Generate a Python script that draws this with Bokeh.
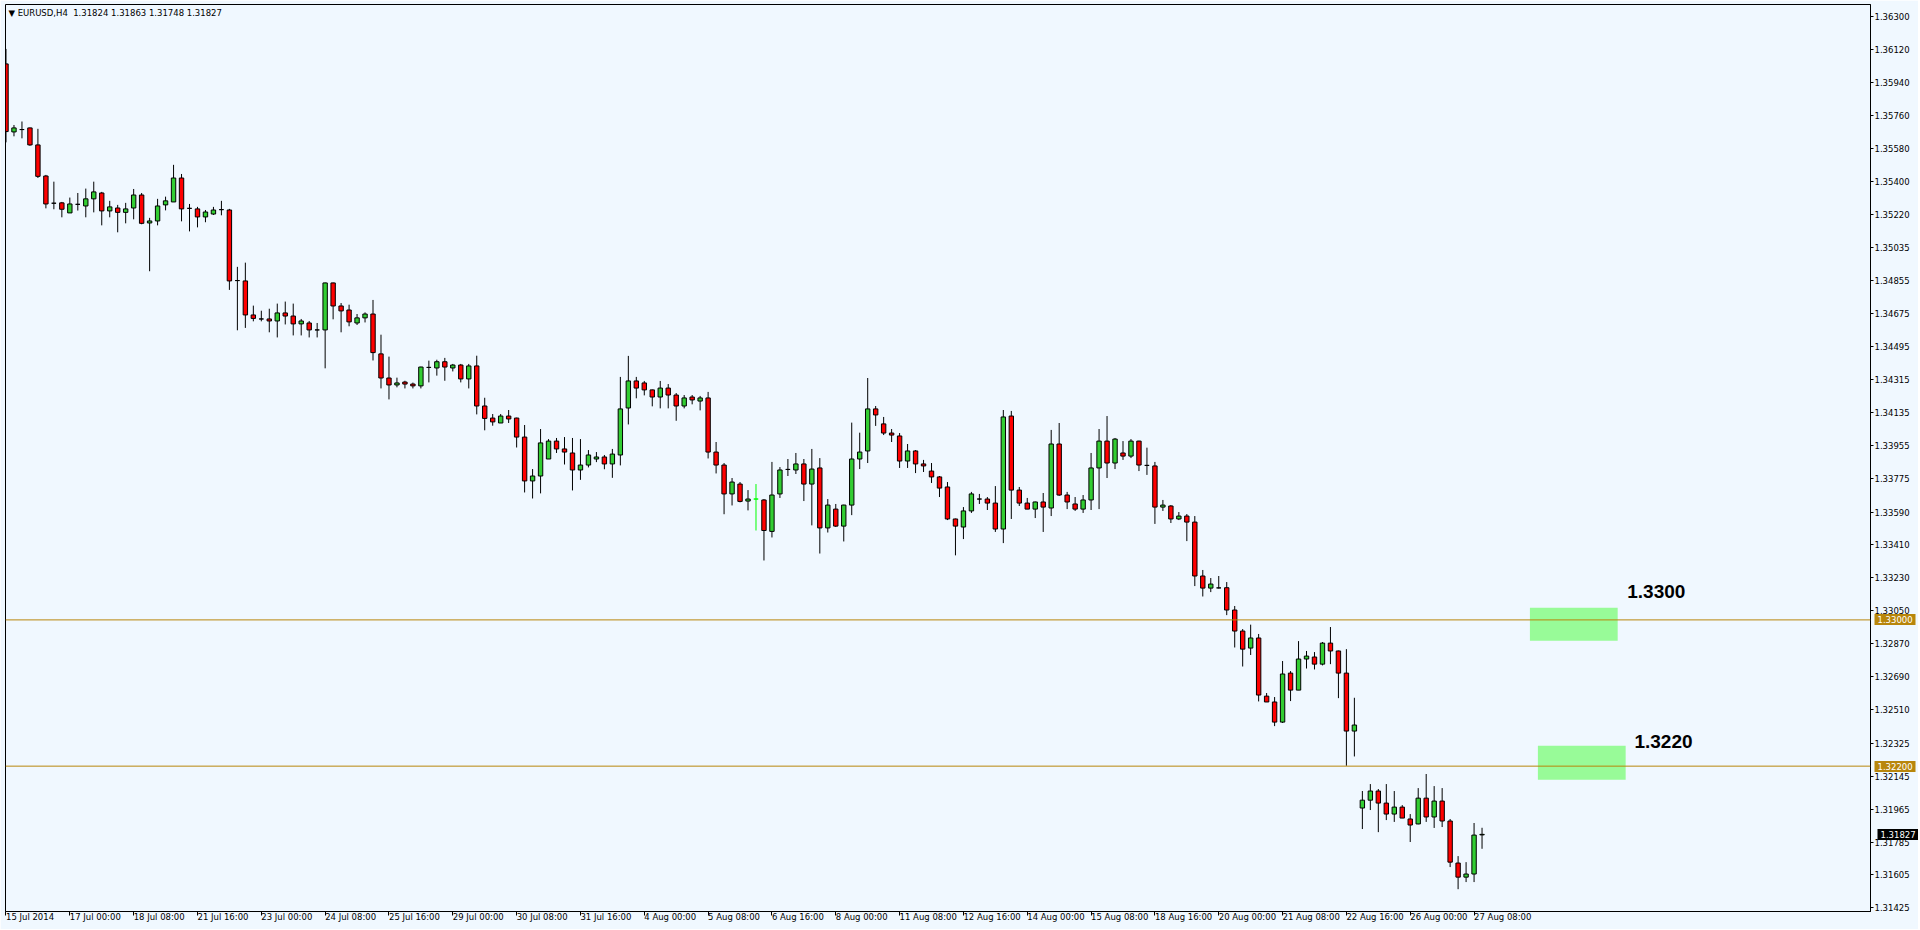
import numpy as np
from bokeh.plotting import figure
from bokeh.models import (Range1d, FixedTicker, NumeralTickFormatter, Span, Label,
                          ColumnDataSource, LinearAxis)
from bokeh.embed import file_html
from bokeh.resources import INLINE

# ---------------- data ----------------
symbol = "EURUSD,H4"

open_ = [1.36041, 1.35669, 1.35682, 1.35691, 1.35598, 1.35428, 1.35279, 1.35281, 1.35226, 1.35273,
         1.35264, 1.35303, 1.35335, 1.35237, 1.35253, 1.35229, 1.35253, 1.35324, 1.35171, 1.35182,
         1.35270, 1.35286, 1.35417, 1.35251, 1.35248, 1.35204, 1.35220, 1.35244, 1.35242, 1.34856,
         1.34854, 1.34668, 1.34646, 1.34646, 1.34635, 1.34679, 1.34662, 1.34619, 1.34624, 1.34586,
         1.34586, 1.34843, 1.34717, 1.34695, 1.34624, 1.34652, 1.34673, 1.34455, 1.34323, 1.34285,
         1.34301, 1.34290, 1.34280, 1.34381, 1.34378, 1.34412, 1.34378, 1.34394, 1.34318, 1.34389,
         1.34170, 1.34104, 1.34077, 1.34115, 1.34104, 1.34000, 1.33760, 1.33787, 1.33880, 1.33978,
         1.33935, 1.33913, 1.33820, 1.33847, 1.33880, 1.33891, 1.33853, 1.33902, 1.34159, 1.34307,
         1.34296, 1.34258, 1.34219, 1.34268, 1.34230, 1.34170, 1.34219, 1.34197, 1.34214, 1.33918,
         1.33847, 1.33689, 1.33743, 1.33650, 1.33661, 1.33656, 1.33484, 1.33689, 1.33823, 1.33820,
         1.33853, 1.33743, 1.33831, 1.33503, 1.33606, 1.33513, 1.33628, 1.33880, 1.33924, 1.34154,
         1.34072, 1.34022, 1.34006, 1.33869, 1.33924, 1.33853, 1.33814, 1.33782, 1.33727, 1.33552,
         1.33508, 1.33596, 1.33661, 1.33661, 1.33639, 1.33497, 1.34115, 1.33710, 1.33639, 1.33606,
         1.33645, 1.33612, 1.33962, 1.33683, 1.33634, 1.33606, 1.33656, 1.33831, 1.33978, 1.33858,
         1.33913, 1.33896, 1.33978, 1.33845, 1.33842, 1.33617, 1.33623, 1.33552, 1.33568, 1.33535,
         1.33240, 1.33174, 1.33175, 1.33176, 1.33054, 1.32939, 1.32846, 1.32901, 1.32583, 1.32551,
         1.32441, 1.32709, 1.32616, 1.32786, 1.32797, 1.32758, 1.32873, 1.32830, 1.32709, 1.32392,
         1.31971, 1.32014, 1.32064, 1.31998, 1.31938, 1.31976, 1.31911, 1.31884, 1.32025, 1.31922,
         1.32009, 1.31900, 1.31670, 1.31593, 1.31610, 1.31824]

high = [1.36123, 1.35707, 1.35726, 1.35693, 1.35686, 1.35434, 1.35397, 1.35286, 1.35310, 1.35335,
        1.35359, 1.35397, 1.35341, 1.35292, 1.35270, 1.35281, 1.35357, 1.35335, 1.35199, 1.35303,
        1.35315, 1.35489, 1.35439, 1.35275, 1.35259, 1.35242, 1.35259, 1.35292, 1.35248, 1.34931,
        1.34954, 1.34719, 1.34691, 1.34702, 1.34730, 1.34741, 1.34730, 1.34646, 1.34635, 1.34624,
        1.34845, 1.34845, 1.34733, 1.34724, 1.34673, 1.34682, 1.34750, 1.34560, 1.34440, 1.34325,
        1.34308, 1.34298, 1.34385, 1.34418, 1.34423, 1.34433, 1.34400, 1.34400, 1.34400, 1.34445,
        1.34215, 1.34126, 1.34126, 1.34148, 1.34106, 1.34066, 1.33825, 1.34044, 1.33989, 1.33995,
        1.34000, 1.33995, 1.33989, 1.33929, 1.33918, 1.33902, 1.33935, 1.34329, 1.34444, 1.34329,
        1.34307, 1.34260, 1.34307, 1.34290, 1.34241, 1.34230, 1.34230, 1.34225, 1.34247, 1.33973,
        1.33858, 1.33776, 1.33754, 1.33710, 1.33743, 1.33661, 1.33864, 1.33836, 1.33880, 1.33913,
        1.33880, 1.33935, 1.33885, 1.33661, 1.33634, 1.33630, 1.34079, 1.34024, 1.34323, 1.34170,
        1.34110, 1.34044, 1.34022, 1.33962, 1.33929, 1.33875, 1.33858, 1.33787, 1.33754, 1.33554,
        1.33617, 1.33700, 1.33689, 1.33672, 1.33732, 1.34148, 1.34143, 1.33727, 1.33667, 1.33647,
        1.33694, 1.34039, 1.34077, 1.33700, 1.33672, 1.33683, 1.33913, 1.34044, 1.34115, 1.33995,
        1.33978, 1.33989, 1.33980, 1.33942, 1.33864, 1.33656, 1.33628, 1.33590, 1.33579, 1.33568,
        1.33273, 1.33229, 1.33240, 1.33207, 1.33076, 1.32950, 1.32974, 1.32923, 1.32600, 1.32578,
        1.32775, 1.32720, 1.32884, 1.32830, 1.32824, 1.32879, 1.32961, 1.32832, 1.32840, 1.32574,
        1.32064, 1.32102, 1.32075, 1.32102, 1.32064, 1.31987, 1.31938, 1.32080, 1.32157, 1.32091,
        1.32080, 1.31911, 1.31708, 1.31675, 1.31889, 1.31863]

low = [1.35612, 1.35645, 1.35634, 1.35593, 1.35417, 1.35251, 1.35246, 1.35202, 1.35226, 1.35239,
       1.35202, 1.35229, 1.35158, 1.35202, 1.35120, 1.35169, 1.35191, 1.35164, 1.34907, 1.35158,
       1.35240, 1.35286, 1.35180, 1.35125, 1.35147, 1.35175, 1.35215, 1.35213, 1.34805, 1.34584,
       1.34597, 1.34633, 1.34633, 1.34573, 1.34545, 1.34616, 1.34556, 1.34556, 1.34545, 1.34545,
       1.34376, 1.34644, 1.34573, 1.34606, 1.34613, 1.34627, 1.34419, 1.34266, 1.34206, 1.34272,
       1.34266, 1.34266, 1.34266, 1.34299, 1.34336, 1.34308, 1.34359, 1.34299, 1.34266, 1.34124,
       1.34037, 1.34062, 1.34077, 1.34077, 1.33943, 1.33697, 1.33664, 1.33692, 1.33880, 1.33913,
       1.33850, 1.33708, 1.33766, 1.33834, 1.33863, 1.33824, 1.33777, 1.33845, 1.34069, 1.34212,
       1.34228, 1.34168, 1.34157, 1.34157, 1.34089, 1.34157, 1.34179, 1.34146, 1.33883, 1.33801,
       1.33578, 1.33626, 1.33643, 1.33599, 1.33489, 1.33325, 1.33451, 1.33667, 1.33787, 1.33798,
       1.33650, 1.33517, 1.33363, 1.33478, 1.33508, 1.33429, 1.33573, 1.33825, 1.33858, 1.34061,
       1.34011, 1.33973, 1.33831, 1.33831, 1.33803, 1.33809, 1.33749, 1.33672, 1.33546, 1.33353,
       1.33442, 1.33585, 1.33634, 1.33601, 1.33481, 1.33420, 1.33552, 1.33623, 1.33606, 1.33557,
       1.33481, 1.33568, 1.33678, 1.33606, 1.33596, 1.33585, 1.33601, 1.33606, 1.33776, 1.33825,
       1.33875, 1.33885, 1.33814, 1.33793, 1.33525, 1.33596, 1.33530, 1.33546, 1.33431, 1.33185,
       1.33128, 1.33152, 1.33172, 1.33026, 1.32849, 1.32745, 1.32808, 1.32554, 1.32551, 1.32419,
       1.32436, 1.32556, 1.32616, 1.32734, 1.32729, 1.32751, 1.32758, 1.32572, 1.32202, 1.32253,
       1.31856, 1.31960, 1.31839, 1.31905, 1.31895, 1.31916, 1.31785, 1.31882, 1.31895, 1.31862,
       1.31867, 1.31648, 1.31527, 1.31566, 1.31566, 1.31748]

close = [1.35671, 1.35691, 1.35682, 1.35598, 1.35426, 1.35275, 1.35279, 1.35246, 1.35275, 1.35273,
         1.35303, 1.35341, 1.35237, 1.35259, 1.35229, 1.35248, 1.35324, 1.35169, 1.35182, 1.35264,
         1.35292, 1.35417, 1.35248, 1.35251, 1.35204, 1.35231, 1.35242, 1.35244, 1.34854, 1.34856,
         1.34668, 1.34649, 1.34646, 1.34635, 1.34679, 1.34662, 1.34619, 1.34635, 1.34586, 1.34586,
         1.34843, 1.34717, 1.34690, 1.34630, 1.34652, 1.34673, 1.34462, 1.34323, 1.34285, 1.34296,
         1.34290, 1.34280, 1.34383, 1.34381, 1.34412, 1.34383, 1.34394, 1.34318, 1.34389, 1.34170,
         1.34102, 1.34083, 1.34115, 1.34099, 1.34000, 1.33760, 1.33787, 1.33968, 1.33978, 1.33935,
         1.33918, 1.33820, 1.33847, 1.33902, 1.33891, 1.33853, 1.33907, 1.34154, 1.34307, 1.34268,
         1.34258, 1.34219, 1.34268, 1.34230, 1.34170, 1.34214, 1.34203, 1.34214, 1.33918, 1.33847,
         1.33689, 1.33754, 1.33648, 1.33661, 1.33661, 1.33489, 1.33683, 1.33820, 1.33823, 1.33853,
         1.33743, 1.33825, 1.33503, 1.33628, 1.33513, 1.33628, 1.33880, 1.33918, 1.34154, 1.34121,
         1.34022, 1.34011, 1.33869, 1.33924, 1.33853, 1.33842, 1.33782, 1.33721, 1.33552, 1.33513,
         1.33596, 1.33689, 1.33661, 1.33639, 1.33497, 1.34110, 1.33710, 1.33639, 1.33606, 1.33645,
         1.33617, 1.33962, 1.33683, 1.33645, 1.33606, 1.33656, 1.33831, 1.33978, 1.33858, 1.33989,
         1.33896, 1.33978, 1.33847, 1.33845, 1.33617, 1.33628, 1.33552, 1.33568, 1.33535, 1.33240,
         1.33174, 1.33196, 1.33175, 1.33054, 1.32939, 1.32840, 1.32901, 1.32589, 1.32551, 1.32441,
         1.32704, 1.32616, 1.32786, 1.32802, 1.32758, 1.32873, 1.32830, 1.32709, 1.32392, 1.32425,
         1.32014, 1.32064, 1.31998, 1.31938, 1.31976, 1.31916, 1.31878, 1.32025, 1.31922, 1.32009,
         1.31900, 1.31675, 1.31593, 1.31610, 1.31823, 1.31827]

x_tick_labels = ["15 Jul 2014", "17 Jul 00:00", "18 Jul 08:00", "21 Jul 16:00", "23 Jul 00:00",
                 "24 Jul 08:00", "25 Jul 16:00", "29 Jul 00:00", "30 Jul 08:00", "31 Jul 16:00",
                 "4 Aug 00:00", "5 Aug 08:00", "6 Aug 16:00", "8 Aug 00:00", "11 Aug 08:00",
                 "12 Aug 16:00", "14 Aug 00:00", "15 Aug 08:00", "18 Aug 16:00", "20 Aug 00:00",
                 "21 Aug 08:00", "22 Aug 16:00", "26 Aug 00:00", "27 Aug 08:00"]
bars_per_label = 8

y_tick_values = [1.36300, 1.36120, 1.35940, 1.35760, 1.35580, 1.35400, 1.35220, 1.35035,
                 1.34855, 1.34675, 1.34495, 1.34315, 1.34135, 1.33955, 1.33775, 1.33590,
                 1.33410, 1.33230, 1.33050, 1.32870, 1.32690, 1.32510, 1.32325, 1.32145,
                 1.31965, 1.31785, 1.31605, 1.31425]

levels = [1.33000, 1.32200]
level_texts = ["1.3300", "1.3220"]

zone_left = [191, 192]
zone_right = [202, 203]
zone_top = [1.33066, 1.32311]
zone_bottom = [1.32886, 1.32125]

lime_doji_bars = [94]

# ---------------- styling ----------------
BG = "#F0F8FF"
BULL = "#32CD32"
BEAR = "#FF0000"
GOLD = "#B8860B"
ZONE = "#98FB98"
AXFONT = "DejaVu Sans"
FONT = "Liberation Sans"

n = len(open_)
o = np.array(open_); h = np.array(high); l = np.array(low); c = np.array(close)
fill = np.where(c > o, BULL, np.where(c < o, BEAR, BULL)).tolist()
line = ["black"] * n
for i in lime_doji_bars:
    line[i] = "#00FF00"

src = ColumnDataSource(dict(x=np.arange(n), high=h, low=l,
                            top=np.maximum(o, c), bottom=np.minimum(o, c),
                            fill=fill, line=line))

W, H = 1918, 929
LEFT, TOP, RIGHT, BOTTOM = 5, 4, 43, 18
frame_w = W - LEFT - RIGHT
x0 = -0.0625
x_end = x0 + frame_w / 8.0
p = figure(width=W, height=H, output_backend="svg", toolbar_location=None,
           x_range=Range1d(x0, x_end), y_range=Range1d(1.31405, 1.36366),
           x_axis_location=None, y_axis_location="right",
           background_fill_color=BG, border_fill_color=BG,
           min_border_left=LEFT, min_border_top=TOP, min_border_right=RIGHT,
           min_border_bottom=BOTTOM)
p.grid.visible = False
p.outline_line_color = "black"
p.outline_line_width = 1

# right price axis
yax = p.yaxis[0]
yax.ticker = FixedTicker(ticks=y_tick_values)
yax.formatter = NumeralTickFormatter(format="0.00000")
yax.major_tick_out = 3
yax.major_tick_in = 0
yax.minor_tick_out = 0
yax.minor_tick_in = 0
yax.axis_line_color = "black"
yax.major_tick_line_color = "black"
yax.major_label_standoff = 1
yax.major_label_text_font = AXFONT
yax.major_label_text_font_size = "8.5px"
yax.major_label_text_color = "black"

# bottom time axis
tick_pos = [i * bars_per_label for i in range(len(x_tick_labels))]
xax = LinearAxis(ticker=FixedTicker(ticks=tick_pos),
                 major_label_overrides={t: s for t, s in zip(tick_pos, x_tick_labels)},
                 major_tick_out=4, major_tick_in=0, minor_tick_out=0, minor_tick_in=0,
                 axis_line_color="black", major_tick_line_color="black",
                 major_label_standoff=1, major_label_orientation=-1e-6,
                 major_label_text_font=AXFONT, major_label_text_font_size="8.5px",
                 major_label_text_color="black")
p.add_layout(xax, "below")

# zones
p.quad(left=zone_left, right=zone_right, top=zone_top, bottom=zone_bottom,
       fill_color=ZONE, line_color=None)

# candles
p.segment(x0="x", y0="low", x1="x", y1="high", line_color="line", line_width=1, source=src)
p.vbar(x="x", width=0.55, top="top", bottom="bottom", fill_color="fill",
       line_color="line", line_width=1, source=src)

# horizontal levels
for lv in levels:
    p.add_layout(Span(location=lv, dimension="width", line_color=GOLD, line_width=1))

# level texts
text_x = [203.2, 204.1]
text_y = [1.33154, 1.32333]
for tx, ty, t in zip(text_x, text_y, level_texts):
    p.add_layout(Label(x=tx, y=ty, text=t, text_font=FONT, text_font_size="19px",
                       text_font_style="bold", text_color="black",
                       text_baseline="alphabetic"))

# highlighted price tags on the price scale: extra zero-width axes stacked after
# the main scale, whose thick inward ticks form the coloured boxes
SCALE_W = 39
for vals, bgc in [(levels, GOLD), ([close[-1]], "black")]:
    tag_ax = LinearAxis(ticker=FixedTicker(ticks=vals),
                        formatter=NumeralTickFormatter(format="0.00000"),
                        major_tick_in=SCALE_W - 1, major_tick_out=3,
                        minor_tick_out=0, minor_tick_in=0,
                        major_tick_line_color=bgc, major_tick_line_width=11,
                        major_tick_line_cap="butt", axis_line_color=None,
                        major_label_standoff=-(SCALE_W - 1),
                        major_label_text_font=AXFONT, major_label_text_font_size="8.5px",
                        major_label_text_color="white")
    p.add_layout(tag_ax, "right")

# title
title = f"\u25bc {symbol}\u00a0\u00a0{open_[-1]:.5f} {high[-1]:.5f} {low[-1]:.5f} {close[-1]:.5f}"
p.add_layout(Label(x=0.3, y=1.36346, text=title, text_font=AXFONT, text_font_size="8.5px",
                   text_color="black", text_baseline="top"))

open("out.html", "w").write(file_html(p, INLINE))
